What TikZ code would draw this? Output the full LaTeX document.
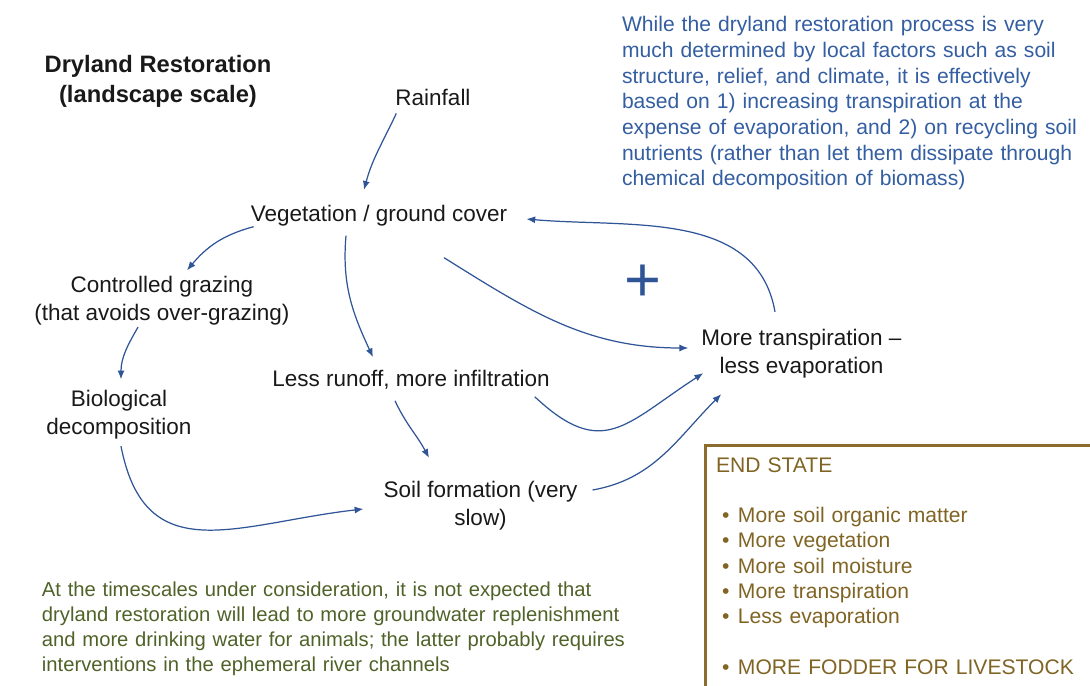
\documentclass[tikz,border=0pt]{standalone}
\usepackage{fontspec}
\setmainfont{Liberation Sans}
\usetikzlibrary{arrows.meta}
\definecolor{linkblue}{RGB}{47,85,151}
\definecolor{noteblue}{RGB}{52,94,162}
\definecolor{notegreen}{RGB}{79,98,40}
\definecolor{endbrown}{RGB}{128,100,36}
\definecolor{framebrown}{RGB}{140,108,44}
\newcommand{\bl}{\hspace*{0.12cm}\makebox[0.32cm][l]{\textbullet}}

\begin{document}
\begin{tikzpicture}[
    >={Latex[length=5pt,width=4pt]},
    every node/.style={font=\fontsize{12.8}{15.9}\selectfont,text=black!90},
    stage/.style={align=center},
    link/.style={->,draw=linkblue,line width=0.7pt},
    note/.style={align=left,font=\fontsize{12}{14.6}\selectfont},
    endframe/.style={draw=framebrown,line width=1.7pt}
  ]
      \path[use as bounding box,clip] (-7.58,4.32) rectangle (14.22,-9.40);

      \node[stage] (1) {Vegetation / ground cover};
      \node[stage,above of=1,xshift=1.08cm,yshift=1.38cm] (2) {Rainfall};
      \node[stage,below of=1,xshift=-4.34cm,yshift=-0.70cm] (3) {Controlled grazing\\(that avoids over-grazing)};
      \node[stage,below of=3,xshift=-0.86cm,yshift=-1.28cm] (4) {Biological\\decomposition};
      \node[stage,below of=1,xshift=0.64cm,yshift=-2.28cm] (5) {Less runoff, more infiltration};
      \node[stage,below of=5,xshift=1.39cm,yshift=-1.52cm] (6) {Soil formation (very\\slow)};
      \node[stage,right of=1,xshift=7.45cm,yshift=-2.76cm] (7) {More transpiration --\\less evaporation};
      \node[above of=7,xshift=-3.17cm,yshift=0.41cm,text=linkblue,font=\fontsize{36}{40}\selectfont] (8) {+};
      \node[stage,above of=1,xshift=-4.42cm,yshift=1.69cm,font=\fontsize{13.5}{17}\selectfont\bfseries] (9) {Dryland Restoration\\(landscape scale)};

      % notes
      \node[note,text=noteblue,text width=9.6cm,above of=7,xshift=1.21cm,yshift=4.01cm] (10) {While the dryland restoration process is very\\much determined by local factors such as soil\\structure, relief, and climate, it is effectively\\based on 1) increasing transpiration at the\\expense of evaporation, and 2) on recycling soil\\nutrients (rather than let them dissipate through\\chemical decomposition of biomass)};
      \node[note,text=notegreen,text width=12.6cm,font=\fontsize{11.5}{14.3}\selectfont,below of=4,xshift=4.76cm,yshift=-3.28cm] (11) {At the timescales under consideration, it is not expected that\\dryland restoration will lead to more groundwater replenishment\\and more drinking water for animals; the latter probably requires\\interventions in the ephemeral river channels};

      \draw[endframe] (6.53,-10) |- (15,-4.59);
      \node[note,text=endbrown,text width=7.8cm,font=\fontsize{12}{14.4}\selectfont,below of=7,xshift=2.19cm,yshift=-3.24cm] (12) {END STATE\\[14.4pt]\bl More soil organic matter\\\bl More vegetation\\\bl More soil moisture\\\bl More transpiration\\\bl Less evaporation\\[14.4pt]\bl MORE FODDER FOR LIVESTOCK};

      \draw[link] ([xshift=0.14cm,yshift=-0.04cm]2.south west) to[out=245,in=75] ([xshift=-0.3cm,yshift=0.19cm]1.north);
      \draw[link] ([xshift=0.18cm,yshift=0.12cm]1.south west) to[out=195,in=50] ([xshift=0.5cm]3.north);
      \draw[link] ([xshift=-0.66cm,yshift=-0.06cm]1.south) to[out=265,in=115] ([xshift=-0.76cm,yshift=0.14cm]5.north);
      \draw[link] ([xshift=1.3cm,yshift=-0.5cm]1.south) to[out=-32,in=180] ([xshift=-0.14cm,yshift=0.12cm]7.west);
      \draw[link] ([xshift=-0.53cm,yshift=0.23cm]7.north) to[out=100,in=-5] ([xshift=0.26cm,yshift=-0.06cm]1.east);
      \draw[link] ([xshift=-0.48cm,yshift=0.09cm]3.south) to[out=240,in=90] ([xshift=0.04cm,yshift=0.1cm]4.north);
      \draw[link] ([xshift=-0.32cm,yshift=-0.1cm]5.south) to[out=295,in=118] ([xshift=-1.03cm,yshift=0.35cm]6.north);
      \draw[link] ([xshift=-0.42cm,yshift=-0.02cm]5.south east) to[out=317,in=213,looseness=1.4] ([xshift=0.16cm,yshift=0.23cm]7.south west);
      \draw[link] ([xshift=0.04cm,yshift=-0.01cm]4.south) to[out=281,in=186.5,looseness=1.3] ([xshift=-0.28cm,yshift=-0.06cm]6.west);
      \draw[link] ([xshift=0.18cm,yshift=0.32cm]6.east) to[out=10,in=225] ([xshift=0.52cm,yshift=-0.19cm]7.south west);
    \end{tikzpicture}
\end{document}
